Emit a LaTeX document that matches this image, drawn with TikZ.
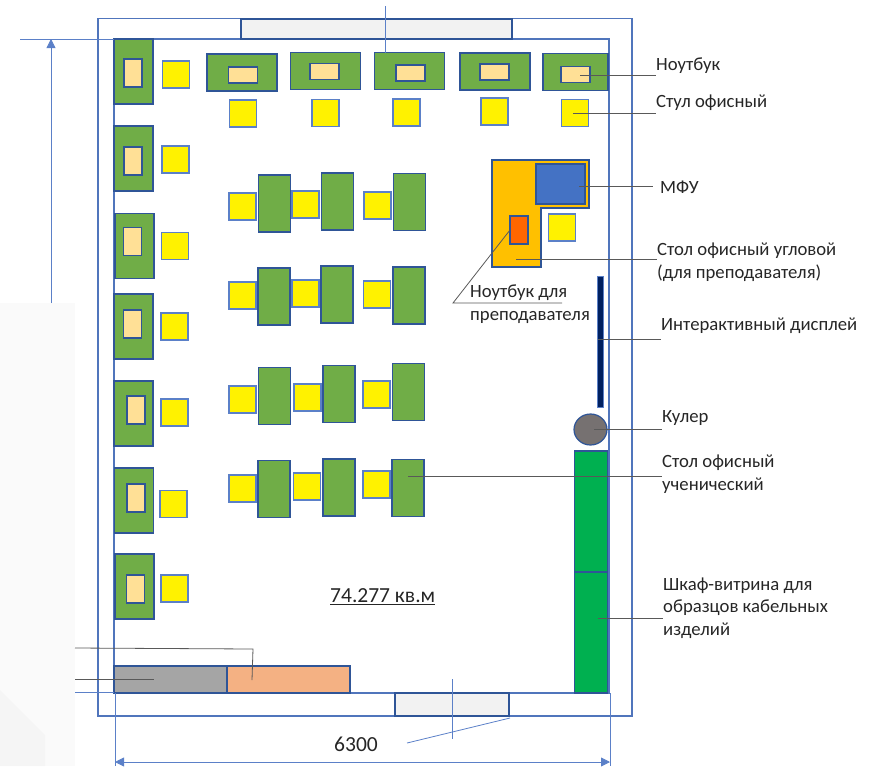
\documentclass[tikz,border=0pt]{standalone}
\usepackage{fontspec}
\setmainfont{Carlito}
\usepackage{xcolor}
\usetikzlibrary{shapes.geometric, arrows.meta}
\definecolor{kant}{HTML}{2F5597}
\definecolor{tonkaya}{HTML}{5B80C8}
\definecolor{zelen}{HTML}{70AD47}
\definecolor{ekran}{HTML}{FFE096}
\tikzstyle{predmet} = [draw=kant, line width=1.2pt, inner sep=0pt, outer sep=0pt]
\tikzstyle{stolB} = [rectangle, predmet, fill=zelen, minimum width=39pt, minimum height=65pt]
\tikzstyle{stolV} = [rectangle, predmet, fill=zelen, minimum width=70pt, minimum height=37pt]
\tikzstyle{stolS} = [rectangle, predmet, fill=zelen, minimum width=32pt, minimum height=57pt]
\tikzstyle{stul} = [rectangle, predmet, draw=tonkaya, fill=yellow, minimum width=27pt, minimum height=27pt]
\tikzstyle{noutB} = [rectangle, predmet, fill=ekran, minimum width=18pt, minimum height=28pt]
\tikzstyle{noutV} = [rectangle, predmet, fill=ekran, minimum width=29pt, minimum height=16pt]
\tikzstyle{proem} = [rectangle, predmet, fill={rgb,255:red,242;green,242;blue,242}]
\tikzstyle{shkaf} = [rectangle, predmet, fill={rgb,255:red,0;green,176;blue,80}, minimum width=33.5pt, minimum height=121pt]
\tikzstyle{stena} = [draw=tonkaya!75!kant, line width=1.5pt]
\tikzstyle{podpis} = [anchor=west, inner sep=0pt, align=left, font=\fontsize{18.7}{22.5}\selectfont, text=black!85]
\tikzstyle{vynoska} = [draw=black!65, line width=0.8pt]
\tikzstyle{razmer} = [draw=tonkaya, line width=0.8pt]
\tikzstyle{arrow} = [razmer, -{Triangle[length=9pt,width=9pt]}]

\begin{document}
\begin{tikzpicture}[x=1pt, y=-1pt]
	\useasboundingbox (0,0) rectangle (872,766);
	
	\fill [black!2] (0,303) rectangle (75,766);
	\fill [black!4] (0,690) -- (45,735) -- (45,766) -- (0,766) -- cycle;
	
	\draw [stena] (98,18.5) rectangle (632,716);
	\draw [stena] (114,39) rectangle (609,693);
	
	\node (okno) [proem, minimum width=271pt, minimum height=20pt] at (376.5,29) {};
	\node (dver) [proem, minimum width=114pt, minimum height=23pt] at (452,704.5) {};
	
	% stoly u levoj steny
	\node (stolL1) [stolB] at (133.5,71.5) {};
	\node (stolL2) [stolB] at (133.5,158.5) {};
	\node (stolL3) [stolB] at (134.5,246) {};
	\node (stolL4) [stolB] at (133.5,326.5) {};
	\node (stolL5) [stolB] at (133.5,413.5) {};
	\node (stolL6) [stolB] at (134,500.5) {};
	\node (stolL7) [stolB] at (134.5,586.5) {};
	
	\node (noutL1) [noutB] at (133,73) {};
	\node (noutL2) [noutB] at (133,161) {};
	\node (noutL3) [noutB] at (132.75,241.5) {};
	\node (noutL4) [noutB] at (132.5,324) {};
	\node (noutL5) [noutB] at (136,410) {};
	\node (noutL6) [noutB] at (136,498) {};
	\node (noutL7) [noutB] at (135.5,589) {};
	
	\node (stulL1) [stul] at (176,74.5) {};
	\node (stulL2) [stul] at (175.5,159.5) {};
	\node (stulL3) [stul] at (175,246) {};
	\node (stulL4) [stul] at (174.5,326.5) {};
	\node (stulL5) [stul] at (174.5,412.5) {};
	\node (stulL6) [stul] at (173.5,504) {};
	\node (stulL7) [stul] at (174.5,588.5) {};
	
	% verhnij rjad
	\node (stolV1) [stolV] at (242,72.5) {};
	\node (stolV2) [stolV] at (325.5,71) {};
	\node (stolV3) [stolV] at (409.5,71) {};
	\node (stolV4) [stolV] at (495,71.5) {};
	\node (stolV5) [stolV, minimum width=65pt] at (575.5,72) {};
	
	\node (noutV1) [noutV] at (243,75) {};
	\node (noutV2) [noutV] at (324.5,71.5) {};
	\node (noutV3) [noutV] at (410.5,73) {};
	\node (noutV4) [noutV] at (494.5,72) {};
	\node (noutV5) [noutV] at (575.5,74.5) {};
	
	\node (stulV1) [stul] at (243,113.5) {};
	\node (stulV2) [stul] at (325.5,113) {};
	\node (stulV3) [stul] at (406.5,112.5) {};
	\node (stulV4) [stul] at (494.5,111.5) {};
	\node (stulV5) [stul] at (575,113) {};
	
	% srednie rjady
	\node (stulA1) [stul] at (242.5,206.5) {};
	\node (stolA1) [stolS] at (274.5,203.5) {};
	\node (stulA2) [stul] at (305.5,204.5) {};
	\node (stolA2) [stolS] at (337.5,201.5) {};
	\node (stulA3) [stul] at (377.5,205.5) {};
	\node (stolA3) [stolS] at (409.5,202) {};
	
	\node (stulB1) [stul] at (242.5,295.5) {};
	\node (stolB1) [stolS] at (274,296.5) {};
	\node (stulB2) [stul] at (305.5,293.5) {};
	\node (stolB2) [stolS] at (337,294.5) {};
	\node (stulB3) [stul] at (377,294.5) {};
	\node (stolB3) [stolS] at (409,295.5) {};
	
	\node (stulC1) [stul] at (242.5,399.5) {};
	\node (stolC1) [stolS] at (274.5,396) {};
	\node (stulC2) [stul] at (307.5,397.5) {};
	\node (stolC2) [stolS] at (339,394) {};
	\node (stulC3) [stul] at (376.5,394.5) {};
	\node (stolC3) [stolS] at (408.5,392) {};
	
	\node (stulD1) [stul] at (242.5,488.5) {};
	\node (stolD1) [stolS] at (274,489) {};
	\node (stulD2) [stul] at (307,486.5) {};
	\node (stolD2) [stolS] at (339,487.5) {};
	\node (stulD3) [stul] at (376.5,484.5) {};
	\node (stolD3) [stolS] at (408,488) {};
	
	% stol prepodavatelja
	\draw [predmet, fill={rgb,255:red,255;green,192;blue,0}] (492,160) -- (589,160) -- (589,208) -- (541,208) -- (541,267) -- (492,267) -- cycle;
	\node (mfu) [rectangle, predmet, fill={rgb,255:red,68;green,114;blue,196}, minimum width=49pt, minimum height=40pt] at (560.5,184) {};
	\node (noutPrep) [noutB, fill={rgb,255:red,255;green,102;blue,0}] at (519,230) {};
	\node (stulPrep) [stul] at (562,227.5) {};
	
	\node (displej) [rectangle, predmet, draw=tonkaya, line width=0.6pt, fill={rgb,255:red,0;green,32;blue,96}, minimum width=6pt, minimum height=131pt] at (600,342) {};
	\node (kuler) [ellipse, predmet, fill={rgb,255:red,118;green,113;blue,113}, minimum width=33pt, minimum height=31pt] at (590.5,429.5) {};
	\node (shkaf1) [shkaf] at (591,511.5) {};
	\node (shkaf2) [shkaf] at (591,632.5) {};
	\node (seryj) [rectangle, predmet, fill={rgb,255:red,165;green,165;blue,165}, minimum width=113pt, minimum height=27pt] at (170.5,679.5) {};
	\node (persik) [rectangle, predmet, fill={rgb,255:red,244;green,177;blue,131}, minimum width=123pt, minimum height=27pt] at (288.5,679.5) {};
	
	% podpisi
	\node (lblNout) [podpis] at (656,66) {Ноутбук};
	\node (lblStul) [podpis] at (656,103) {Стул офисный};
	\node (lblMfu) [podpis] at (660,187) {МФУ};
	\node (lblUgol) [podpis] at (657,262) {Стол офисный угловой\\(для преподавателя)};
	\node (lblPrep) [podpis] at (470,304) {Ноутбук для\\преподавателя};
	\node (lblDisp) [podpis] at (661,326) {Интерактивный дисплей};
	\node (lblKuler) [podpis] at (662,418) {Кулер};
	\node (lblUchen) [podpis] at (662,474) {Стол офисный\\ученический};
	\node (lblShkaf) [podpis] at (663,608) {Шкаф-витрина для\\образцов кабельных\\изделий};
	\node (lblPlosh) [podpis, font=\fontsize{21.5}{24}\selectfont] at (330,597) {\underline{74.277 кв.м}};
	\node (lbl6300) [podpis, font=\fontsize{21.5}{24}\selectfont] at (334,744) {6300};
	
	% vynoski
	\coordinate (ptNout) at (580,75);
	\coordinate (ptStul) at (573,113);
	\coordinate (ptMfu) at (579,186);
	\coordinate (ptMfuB) at (653,186);
	\coordinate (ptUgol) at (516,259);
	\coordinate (ptDisp) at (598,339);
	\coordinate (ptKuler) at (594,429);
	\coordinate (ptUchen) at (408,476);
	\coordinate (ptShkaf) at (598,618);
	\coordinate (ptPrepA) at (453,303);
	\coordinate (ptPrepB) at (562,303);
	\coordinate (ptPersikA) at (75,648);
	\coordinate (ptPersikB) at (253,649);
	\coordinate (ptPersikC) at (252,680);
	\coordinate (ptSeryjA) at (75,679);
	\coordinate (ptSeryjB) at (154,679);
	
	\draw [vynoska] (ptNout) -- (ptNout -| lblNout.west);
	\draw [vynoska] (ptStul) -- (ptStul -| lblStul.west);
	\draw [vynoska] (ptMfu) -- (ptMfuB);
	\draw [vynoska] (ptUgol) -- (ptUgol -| lblUgol.west);
	\draw [vynoska] (ptDisp) -- (ptDisp -| lblDisp.west);
	\draw [vynoska] (ptKuler) -- (ptKuler -| lblKuler.west);
	\draw [vynoska] (ptUchen) -- (ptUchen -| lblUchen.west);
	\draw [vynoska] (ptShkaf) -- (ptShkaf -| lblShkaf.west);
	\draw [vynoska] (noutPrep.west) -- (ptPrepA) -- (ptPrepB);
	\draw [vynoska] (ptPersikA) -- (ptPersikB) -- (ptPersikC);
	\draw [vynoska] (ptSeryjA) -- (ptSeryjB);
	
	% razmery
	\coordinate (dimVerhA) at (385,6);
	\coordinate (dimVerhB) at (385,53);
	\coordinate (dimLevA) at (20,39);
	\coordinate (dimLevB) at (114,39);
	\coordinate (dimStrA) at (51,303);
	\coordinate (dimStrB) at (51,39);
	\coordinate (dimNizA) at (75,692);
	\coordinate (dimNizB) at (114,692);
	\coordinate (dimPrA) at (115,693);
	\coordinate (dimPrB) at (115,766);
	\coordinate (dimPrC) at (610,693);
	\coordinate (dimPrD) at (610,766);
	\coordinate (dimGorA) at (115,762);
	\coordinate (dimGorB) at (610,762);
	\coordinate (dimDverA) at (452,679);
	\coordinate (dimDverB) at (452,739);
	\coordinate (dimKosA) at (407,743);
	\coordinate (dimKosB) at (510,718);
	
	\draw [razmer] (dimVerhA) -- (dimVerhB);
	\draw [razmer] (dimLevA) -- (dimLevB);
	\draw [arrow] (dimStrA) -- (dimStrB);
	\draw [razmer] (dimNizA) -- (dimNizB);
	\draw [razmer] (dimPrA) -- (dimPrB);
	\draw [razmer] (dimPrC) -- (dimPrD);
	\draw [arrow, {Triangle[length=9pt,width=9pt]}-{Triangle[length=9pt,width=9pt]}] (dimGorA) -- (dimGorB);
	\draw [razmer] (dimDverA) -- (dimDverB);
	\draw [razmer] (dimKosA) -- (dimKosB);
	
\end{tikzpicture}
\end{document}
